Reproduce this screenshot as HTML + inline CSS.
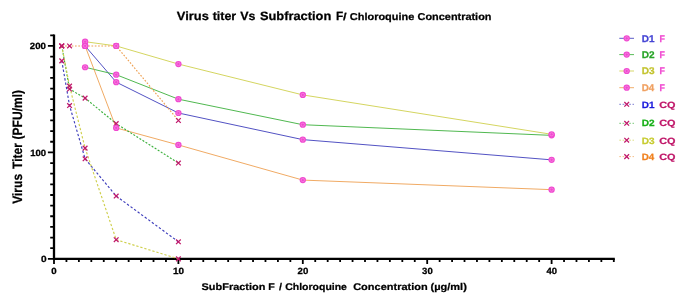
<!DOCTYPE html>
<html><head><meta charset="utf-8"><title>Virus titer Vs Subfraction F</title>
<style>html,body{margin:0;padding:0;background:#fff;}svg{display:block;will-change:transform;}text{font-family:"Liberation Sans",sans-serif;font-weight:bold;text-rendering:geometricPrecision;}</style>
</head><body>
<svg width="685" height="301" viewBox="0 0 685 301">
<rect width="685" height="301" fill="#fff"/>
<text transform="translate(176.81,20.0) scale(1.0735,1.0)" font-size="12" fill="#000" stroke="#000" stroke-width="0.25">Virus</text>
<text transform="translate(212.65,20.0) scale(1.0384,1.0)" font-size="12" fill="#000" stroke="#000" stroke-width="0.25">titer</text>
<text transform="translate(240.32,20.0) scale(1.0352,1.0)" font-size="12" fill="#000" stroke="#000" stroke-width="0.25">Vs</text>
<text transform="translate(259.93,20.0) scale(1.0705,1.0)" font-size="12" fill="#000" stroke="#000" stroke-width="0.25">Subfraction</text>
<text transform="translate(335.93,19.6) scale(0.9889,1.0)" font-size="12" fill="#000" stroke="#000" stroke-width="0.25" font-weight="normal">F</text>
<text transform="translate(342.88,20.0) scale(1.2776,1.0)" font-size="10" fill="#000" stroke="#000" stroke-width="0.25">/</text>
<text transform="translate(349.85,20.0) scale(1.0941,1.0)" font-size="10" fill="#000" stroke="#000" stroke-width="0.25">Chloroquine</text>
<text transform="translate(417.55,20.0) scale(1.0907,1.0)" font-size="10" fill="#000" stroke="#000" stroke-width="0.25">Concentration</text>
<text transform="translate(22.3,203.80) rotate(-90) scale(1.003,1.13)" font-size="12" fill="#000" stroke="#000" stroke-width="0.2">Virus</text>
<text transform="translate(22.3,168.95) rotate(-90) scale(1.003,1.13)" font-size="12" fill="#000" stroke="#000" stroke-width="0.2">Titer</text>
<text transform="translate(22.3,139.43) rotate(-90) scale(1.003,1.13)" font-size="12" fill="#000" stroke="#000" stroke-width="0.2">(PFU/ml)</text>
<text transform="translate(201.58,290.0) scale(1.0936,0.97)" font-size="10" fill="#000" stroke="#000" stroke-width="0.25">SubFraction</text>
<text transform="translate(268.29,290.0) scale(1.0644,0.97)" font-size="10" fill="#000" stroke="#000" stroke-width="0.25">F</text>
<text transform="translate(278.99,290.0) scale(1.0840,0.97)" font-size="10" fill="#000" stroke="#000" stroke-width="0.25">/</text>
<text transform="translate(285.17,290.0) scale(1.0494,0.97)" font-size="10" fill="#000" stroke="#000" stroke-width="0.25">Chloroquine</text>
<text transform="translate(353.15,290.0) scale(1.0997,0.97)" font-size="10" fill="#000" stroke="#000" stroke-width="0.25">Concentration</text>
<text transform="translate(430.45,290.0) scale(1.1037,0.97)" font-size="10" fill="#000" stroke="#000" stroke-width="0.25">(µg/ml)</text>
<path d="M54.0 34.61V259.95000000000005 M52.9 258.85H614.8" stroke="#000" stroke-width="2.3" fill="none"/>
<path d="M54.0 258.85h-6.1 M54.0 248.21h-3.8 M54.0 237.56h-3.8 M54.0 226.92h-3.8 M54.0 216.27h-3.8 M54.0 205.63h-3.8 M54.0 194.98h-3.8 M54.0 184.34h-3.8 M54.0 173.69h-3.8 M54.0 163.05h-3.8 M54.0 152.4h-6.1 M54.0 141.76h-3.8 M54.0 131.11h-3.8 M54.0 120.47h-3.8 M54.0 109.82h-3.8 M54.0 99.18h-3.8 M54.0 88.53h-3.8 M54.0 77.89h-3.8 M54.0 67.24h-3.8 M54.0 56.6h-3.8 M54.0 45.95h-6.1 M54.0 35.31h-3.8 M54.0 258.85v5.2 M66.44 258.85v3.2 M78.88 258.85v3.2 M91.32 258.85v3.2 M103.76 258.85v3.2 M116.2 258.85v3.2 M128.64 258.85v3.2 M141.08 258.85v3.2 M153.52 258.85v3.2 M165.96 258.85v3.2 M178.4 258.85v5.2 M190.84 258.85v3.2 M203.28 258.85v3.2 M215.72 258.85v3.2 M228.16 258.85v3.2 M240.6 258.85v3.2 M253.04 258.85v3.2 M265.48 258.85v3.2 M277.92 258.85v3.2 M290.36 258.85v3.2 M302.8 258.85v5.2 M315.24 258.85v3.2 M327.68 258.85v3.2 M340.12 258.85v3.2 M352.56 258.85v3.2 M365.0 258.85v3.2 M377.44 258.85v3.2 M389.88 258.85v3.2 M402.32 258.85v3.2 M414.76 258.85v3.2 M427.2 258.85v5.2 M439.64 258.85v3.2 M452.08 258.85v3.2 M464.52 258.85v3.2 M476.96 258.85v3.2 M489.4 258.85v3.2 M501.84 258.85v3.2 M514.28 258.85v3.2 M526.72 258.85v3.2 M539.16 258.85v3.2 M551.6 258.85v5.2 M564.04 258.85v3.2 M576.48 258.85v3.2 M588.92 258.85v3.2 M601.36 258.85v3.2 M613.8 258.85v3.2" stroke="#000" stroke-width="1.8" fill="none"/>
<text transform="translate(29.86,49.2) scale(1.0743,1.0)" font-size="9" fill="#000" stroke="#000" stroke-width="0.25">200</text>
<text transform="translate(30.20,155.65) scale(1.0582,1.0)" font-size="9" fill="#000" stroke="#000" stroke-width="0.25">100</text>
<text transform="translate(40.90,262.1) scale(1.1214,1.0)" font-size="9" fill="#000" stroke="#000" stroke-width="0.25">0</text>
<text transform="translate(51.22,274.0) scale(1.0747,1.0)" font-size="9" fill="#000" stroke="#000" stroke-width="0.25">0</text>
<text transform="translate(172.88,274.0) scale(1.1020,1.0)" font-size="9" fill="#000" stroke="#000" stroke-width="0.25">10</text>
<text transform="translate(297.57,274.0) scale(1.0719,1.0)" font-size="9" fill="#000" stroke="#000" stroke-width="0.25">20</text>
<text transform="translate(422.08,274.0) scale(1.0599,1.0)" font-size="9" fill="#000" stroke="#000" stroke-width="0.25">30</text>
<text transform="translate(546.56,274.0) scale(1.0520,1.0)" font-size="9" fill="#000" stroke="#000" stroke-width="0.25">40</text>
<polyline points="85.1,45.95 116.2,82.14 178.4,113.01 302.8,139.63 551.6,159.85" fill="none" stroke="#3e3ebc" stroke-width="0.9"/>
<polyline points="85.1,67.24 116.2,74.69 178.4,99.18 302.8,124.72 551.6,135.37" fill="none" stroke="#3cb03c" stroke-width="0.9"/>
<polyline points="85.1,41.69 116.2,45.95 178.4,64.05 302.8,94.92 551.6,134.3" fill="none" stroke="#cfd04e" stroke-width="0.9"/>
<polyline points="85.1,45.95 116.2,127.92 178.4,144.95 302.8,180.08 551.6,189.66" fill="none" stroke="#eea052" stroke-width="0.9"/>
<polyline points="61.77,60.85 69.55,105.56 85.1,158.79 116.2,196.04 178.4,241.82" fill="none" stroke="#3e3ebc" stroke-width="1.15" stroke-dasharray="2.4 2"/>
<polyline points="61.77,45.95 69.55,89.06 85.1,98.11 116.2,123.66 178.4,163.05" fill="none" stroke="#3cb03c" stroke-width="1.15" stroke-dasharray="2 1.6"/>
<polyline points="61.77,45.95 69.55,86.08 85.1,148.14 116.2,239.69 178.4,258.85" fill="none" stroke="#cfd04e" stroke-width="1.15" stroke-dasharray="2.3 1.9"/>
<polyline points="61.77,45.95 69.55,45.95 85.1,45.95 116.2,45.95 178.4,120.47" fill="none" stroke="#eea052" stroke-width="1.15" stroke-dasharray="1.7 1.6"/>
<path d="M59.42 58.50L64.12 63.20M59.42 63.20L64.12 58.50" stroke="#c0186a" stroke-width="1.25" fill="none"/>
<path d="M67.20 103.21L71.90 107.91M67.20 107.91L71.90 103.21" stroke="#c0186a" stroke-width="1.25" fill="none"/>
<path d="M82.75 156.44L87.45 161.14M82.75 161.14L87.45 156.44" stroke="#c0186a" stroke-width="1.25" fill="none"/>
<path d="M113.85 193.69L118.55 198.39M113.85 198.39L118.55 193.69" stroke="#c0186a" stroke-width="1.25" fill="none"/>
<path d="M176.05 239.47L180.75 244.17M176.05 244.17L180.75 239.47" stroke="#c0186a" stroke-width="1.25" fill="none"/>
<path d="M59.42 43.60L64.12 48.30M59.42 48.30L64.12 43.60" stroke="#c0186a" stroke-width="1.25" fill="none"/>
<path d="M67.20 86.71L71.90 91.41M67.20 91.41L71.90 86.71" stroke="#c0186a" stroke-width="1.25" fill="none"/>
<path d="M82.75 95.76L87.45 100.46M82.75 100.46L87.45 95.76" stroke="#c0186a" stroke-width="1.25" fill="none"/>
<path d="M113.85 121.31L118.55 126.01M113.85 126.01L118.55 121.31" stroke="#c0186a" stroke-width="1.25" fill="none"/>
<path d="M176.05 160.70L180.75 165.40M176.05 165.40L180.75 160.70" stroke="#c0186a" stroke-width="1.25" fill="none"/>
<path d="M59.42 43.60L64.12 48.30M59.42 48.30L64.12 43.60" stroke="#c0186a" stroke-width="1.25" fill="none"/>
<path d="M67.20 83.73L71.90 88.43M67.20 88.43L71.90 83.73" stroke="#c0186a" stroke-width="1.25" fill="none"/>
<path d="M82.75 145.79L87.45 150.49M82.75 150.49L87.45 145.79" stroke="#c0186a" stroke-width="1.25" fill="none"/>
<path d="M113.85 237.34L118.55 242.04M113.85 242.04L118.55 237.34" stroke="#c0186a" stroke-width="1.25" fill="none"/>
<path d="M176.05 256.50L180.75 261.20M176.05 261.20L180.75 256.50" stroke="#c0186a" stroke-width="1.25" fill="none"/>
<path d="M59.42 43.60L64.12 48.30M59.42 48.30L64.12 43.60" stroke="#c0186a" stroke-width="1.25" fill="none"/>
<path d="M67.20 43.60L71.90 48.30M67.20 48.30L71.90 43.60" stroke="#c0186a" stroke-width="1.25" fill="none"/>
<path d="M82.75 43.60L87.45 48.30M82.75 48.30L87.45 43.60" stroke="#c0186a" stroke-width="1.25" fill="none"/>
<path d="M113.85 43.60L118.55 48.30M113.85 48.30L118.55 43.60" stroke="#c0186a" stroke-width="1.25" fill="none"/>
<path d="M176.05 118.12L180.75 122.82M176.05 122.82L180.75 118.12" stroke="#c0186a" stroke-width="1.25" fill="none"/>
<ellipse cx="85.1" cy="45.95" rx="3.2" ry="3.1" fill="#f048d0"/><ellipse cx="85.1" cy="45.95" rx="1.65" ry="1.6" fill="none" stroke="#f8a0e6" stroke-width="0.55"/>
<ellipse cx="116.2" cy="82.14" rx="3.2" ry="3.1" fill="#f048d0"/><ellipse cx="116.2" cy="82.14" rx="1.65" ry="1.6" fill="none" stroke="#f8a0e6" stroke-width="0.55"/>
<ellipse cx="178.4" cy="113.01" rx="3.2" ry="3.1" fill="#f048d0"/><ellipse cx="178.4" cy="113.01" rx="1.65" ry="1.6" fill="none" stroke="#f8a0e6" stroke-width="0.55"/>
<ellipse cx="302.8" cy="139.63" rx="3.2" ry="3.1" fill="#f048d0"/><ellipse cx="302.8" cy="139.63" rx="1.65" ry="1.6" fill="none" stroke="#f8a0e6" stroke-width="0.55"/>
<ellipse cx="551.6" cy="159.85" rx="3.2" ry="3.1" fill="#f048d0"/><ellipse cx="551.6" cy="159.85" rx="1.65" ry="1.6" fill="none" stroke="#f8a0e6" stroke-width="0.55"/>
<ellipse cx="85.1" cy="67.24" rx="3.2" ry="3.1" fill="#f048d0"/><ellipse cx="85.1" cy="67.24" rx="1.65" ry="1.6" fill="none" stroke="#f8a0e6" stroke-width="0.55"/>
<ellipse cx="116.2" cy="74.69" rx="3.2" ry="3.1" fill="#f048d0"/><ellipse cx="116.2" cy="74.69" rx="1.65" ry="1.6" fill="none" stroke="#f8a0e6" stroke-width="0.55"/>
<ellipse cx="178.4" cy="99.18" rx="3.2" ry="3.1" fill="#f048d0"/><ellipse cx="178.4" cy="99.18" rx="1.65" ry="1.6" fill="none" stroke="#f8a0e6" stroke-width="0.55"/>
<ellipse cx="302.8" cy="124.72" rx="3.2" ry="3.1" fill="#f048d0"/><ellipse cx="302.8" cy="124.72" rx="1.65" ry="1.6" fill="none" stroke="#f8a0e6" stroke-width="0.55"/>
<ellipse cx="551.6" cy="135.37" rx="3.2" ry="3.1" fill="#f048d0"/><ellipse cx="551.6" cy="135.37" rx="1.65" ry="1.6" fill="none" stroke="#f8a0e6" stroke-width="0.55"/>
<ellipse cx="85.1" cy="41.69" rx="3.2" ry="3.1" fill="#f048d0"/><ellipse cx="85.1" cy="41.69" rx="1.65" ry="1.6" fill="none" stroke="#f8a0e6" stroke-width="0.55"/>
<ellipse cx="116.2" cy="45.95" rx="3.2" ry="3.1" fill="#f048d0"/><ellipse cx="116.2" cy="45.95" rx="1.65" ry="1.6" fill="none" stroke="#f8a0e6" stroke-width="0.55"/>
<ellipse cx="178.4" cy="64.05" rx="3.2" ry="3.1" fill="#f048d0"/><ellipse cx="178.4" cy="64.05" rx="1.65" ry="1.6" fill="none" stroke="#f8a0e6" stroke-width="0.55"/>
<ellipse cx="302.8" cy="94.92" rx="3.2" ry="3.1" fill="#f048d0"/><ellipse cx="302.8" cy="94.92" rx="1.65" ry="1.6" fill="none" stroke="#f8a0e6" stroke-width="0.55"/>
<ellipse cx="551.6" cy="134.3" rx="3.2" ry="3.1" fill="#f048d0"/><ellipse cx="551.6" cy="134.3" rx="1.65" ry="1.6" fill="none" stroke="#f8a0e6" stroke-width="0.55"/>
<ellipse cx="85.1" cy="45.95" rx="3.2" ry="3.1" fill="#f048d0"/><ellipse cx="85.1" cy="45.95" rx="1.65" ry="1.6" fill="none" stroke="#f8a0e6" stroke-width="0.55"/>
<ellipse cx="116.2" cy="127.92" rx="3.2" ry="3.1" fill="#f048d0"/><ellipse cx="116.2" cy="127.92" rx="1.65" ry="1.6" fill="none" stroke="#f8a0e6" stroke-width="0.55"/>
<ellipse cx="178.4" cy="144.95" rx="3.2" ry="3.1" fill="#f048d0"/><ellipse cx="178.4" cy="144.95" rx="1.65" ry="1.6" fill="none" stroke="#f8a0e6" stroke-width="0.55"/>
<ellipse cx="302.8" cy="180.08" rx="3.2" ry="3.1" fill="#f048d0"/><ellipse cx="302.8" cy="180.08" rx="1.65" ry="1.6" fill="none" stroke="#f8a0e6" stroke-width="0.55"/>
<ellipse cx="551.6" cy="189.66" rx="3.2" ry="3.1" fill="#f048d0"/><ellipse cx="551.6" cy="189.66" rx="1.65" ry="1.6" fill="none" stroke="#f8a0e6" stroke-width="0.55"/>
<path d="M619.3 38.3H634" stroke="#3e3ebc" stroke-width="0.85"/>
<ellipse cx="626.7" cy="38.3" rx="3.2" ry="3.1" fill="#f048d0"/><ellipse cx="626.7" cy="38.3" rx="1.65" ry="1.6" fill="none" stroke="#f8a0e6" stroke-width="0.55"/>
<text transform="translate(641.73,42) scale(1.0278,1.0)" font-size="9.7" fill="#4444d4" stroke="#4444d4" stroke-width="0.25">D1</text>
<text transform="translate(659.51,42) scale(0.9144,1.0)" font-size="9.7" fill="#f048d0" stroke="#f048d0" stroke-width="0.25">F</text>
<path d="M619.3 54.6H634" stroke="#3cb03c" stroke-width="0.85"/>
<ellipse cx="626.7" cy="54.6" rx="3.2" ry="3.1" fill="#f048d0"/><ellipse cx="626.7" cy="54.6" rx="1.65" ry="1.6" fill="none" stroke="#f8a0e6" stroke-width="0.55"/>
<text transform="translate(641.73,58) scale(1.0385,1.0)" font-size="9.7" fill="#28a428" stroke="#28a428" stroke-width="0.25">D2</text>
<text transform="translate(659.51,58) scale(0.9144,1.0)" font-size="9.7" fill="#f048d0" stroke="#f048d0" stroke-width="0.25">F</text>
<path d="M619.3 71.0H634" stroke="#cfd04e" stroke-width="0.85"/>
<ellipse cx="626.7" cy="71.0" rx="3.2" ry="3.1" fill="#f048d0"/><ellipse cx="626.7" cy="71.0" rx="1.65" ry="1.6" fill="none" stroke="#f8a0e6" stroke-width="0.55"/>
<text transform="translate(641.73,74) scale(1.0351,1.0)" font-size="9.7" fill="#c4c430" stroke="#c4c430" stroke-width="0.25">D3</text>
<text transform="translate(659.51,74) scale(0.9144,1.0)" font-size="9.7" fill="#f048d0" stroke="#f048d0" stroke-width="0.25">F</text>
<path d="M619.3 87.7H634" stroke="#eea052" stroke-width="0.85"/>
<ellipse cx="626.7" cy="87.7" rx="3.2" ry="3.1" fill="#f048d0"/><ellipse cx="626.7" cy="87.7" rx="1.65" ry="1.6" fill="none" stroke="#f8a0e6" stroke-width="0.55"/>
<text transform="translate(641.75,91) scale(1.0087,1.0)" font-size="9.7" fill="#f0a060" stroke="#f0a060" stroke-width="0.25">D4</text>
<text transform="translate(659.51,91) scale(0.9144,1.0)" font-size="9.7" fill="#f048d0" stroke="#f048d0" stroke-width="0.25">F</text>
<path d="M619.3 104.3H634" stroke="#3e3ebc" stroke-width="0.85" stroke-dasharray="1.7 1.6" opacity="0.8"/>
<path d="M624.35 101.95L629.05 106.65M624.35 106.65L629.05 101.95" stroke="#c0186a" stroke-width="1.25" fill="none"/>
<text transform="translate(641.73,108) scale(1.0956,1.0)" font-size="9.1" fill="#1c1cdc" stroke="#1c1cdc" stroke-width="0.25">D1</text>
<text transform="translate(659.15,108) scale(1.1943,1.0)" font-size="9.1" fill="#c0186a" stroke="#c0186a" stroke-width="0.25">CQ</text>
<path d="M619.3 123.3H634" stroke="#3cb03c" stroke-width="0.85" stroke-dasharray="1.7 1.6" opacity="0.8"/>
<path d="M624.35 120.95L629.05 125.65M624.35 125.65L629.05 120.95" stroke="#c0186a" stroke-width="1.25" fill="none"/>
<text transform="translate(641.73,126) scale(1.1070,1.0)" font-size="9.1" fill="#18b018" stroke="#18b018" stroke-width="0.25">D2</text>
<text transform="translate(659.15,126) scale(1.1943,1.0)" font-size="9.1" fill="#c0186a" stroke="#c0186a" stroke-width="0.25">CQ</text>
<path d="M619.3 140.2H634" stroke="#cfd04e" stroke-width="0.85" stroke-dasharray="1.7 1.6" opacity="0.8"/>
<path d="M624.35 137.85L629.05 142.55M624.35 142.55L629.05 137.85" stroke="#c0186a" stroke-width="1.25" fill="none"/>
<text transform="translate(641.73,144) scale(1.1033,1.0)" font-size="9.1" fill="#c8cc32" stroke="#c8cc32" stroke-width="0.25">D3</text>
<text transform="translate(659.15,144) scale(1.1943,1.0)" font-size="9.1" fill="#c0186a" stroke="#c0186a" stroke-width="0.25">CQ</text>
<path d="M619.3 156.6H634" stroke="#eea052" stroke-width="0.85" stroke-dasharray="1.7 1.6" opacity="0.8"/>
<path d="M624.35 154.25L629.05 158.95M624.35 158.95L629.05 154.25" stroke="#c0186a" stroke-width="1.25" fill="none"/>
<text transform="translate(641.75,160) scale(1.0752,1.0)" font-size="9.1" fill="#f08220" stroke="#f08220" stroke-width="0.25">D4</text>
<text transform="translate(659.15,160) scale(1.1943,1.0)" font-size="9.1" fill="#c0186a" stroke="#c0186a" stroke-width="0.25">CQ</text>
</svg>
</body></html>
